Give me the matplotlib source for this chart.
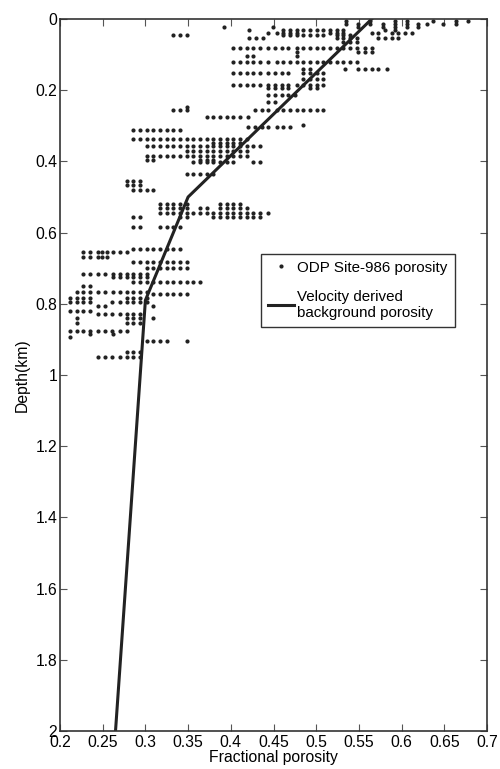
import numpy as np
import matplotlib
matplotlib.use("Agg")
import matplotlib.pyplot as plt
from matplotlib.ticker import FormatStrFormatter

plt.rcParams['font.family'] = ['Liberation Sans', 'DejaVu Sans']

# ODP Site-986 porosity samples: depth (km) -> porosity values at that depth
rows = [
    (0.006, [0.535, 0.563, 0.592, 0.606, 0.637, 0.664, 0.678]),
    (0.014, [0.535, 0.549, 0.563, 0.578, 0.592, 0.606, 0.619, 0.630, 0.648, 0.664]),
    (0.022, [0.392, 0.449, 0.549, 0.578, 0.592, 0.606, 0.619]),
    (0.030, [0.421, 0.461, 0.469, 0.478, 0.485, 0.493, 0.501, 0.508, 0.516, 0.524, 0.531, 0.581, 0.592]),
    (0.038, [0.444, 0.454, 0.461, 0.469, 0.478, 0.516, 0.524, 0.531, 0.565, 0.572, 0.589, 0.596, 0.604, 0.612]),
    (0.044, [0.332, 0.340, 0.349, 0.461, 0.469, 0.478, 0.485, 0.493, 0.501, 0.508, 0.524, 0.531, 0.540]),
    (0.052, [0.421, 0.430, 0.438, 0.524, 0.531, 0.540, 0.548, 0.572, 0.581, 0.589, 0.596]),
    (0.065, [0.531, 0.540, 0.548]),
    (0.082, [0.403, 0.411, 0.419, 0.426, 0.434, 0.444, 0.452, 0.460, 0.467, 0.478, 0.485, 0.493,
             0.501, 0.508, 0.516, 0.524, 0.531, 0.540, 0.548, 0.557, 0.565]),
    (0.092, [0.478, 0.549, 0.557, 0.565]),
    (0.105, [0.419, 0.426, 0.478]),
    (0.120, [0.403, 0.411, 0.419, 0.426, 0.434, 0.444, 0.454, 0.461, 0.469, 0.478, 0.485, 0.493,
             0.501, 0.508, 0.516, 0.524, 0.531, 0.540, 0.548]),
    (0.140, [0.485, 0.493, 0.534, 0.549, 0.557, 0.565, 0.572, 0.583]),
    (0.152, [0.403, 0.411, 0.419, 0.426, 0.434, 0.444, 0.452, 0.460, 0.467, 0.485, 0.493, 0.501, 0.508]),
    (0.168, [0.485, 0.493, 0.501, 0.508]),
    (0.185, [0.403, 0.411, 0.419, 0.426, 0.434, 0.444, 0.452, 0.460, 0.467, 0.478, 0.485, 0.493,
             0.501, 0.508]),
    (0.195, [0.444, 0.452, 0.460, 0.467, 0.493, 0.501]),
    (0.213, [0.444, 0.452, 0.460, 0.467, 0.475]),
    (0.233, [0.444, 0.452]),
    (0.248, [0.349]),
    (0.256, [0.332, 0.340, 0.349, 0.428, 0.437, 0.444, 0.454, 0.461, 0.469, 0.478, 0.485, 0.493,
             0.501, 0.508]),
    (0.275, [0.372, 0.379, 0.387, 0.396, 0.403, 0.411, 0.420]),
    (0.298, [0.485]),
    (0.303, [0.420, 0.428, 0.437, 0.444, 0.454, 0.461, 0.469]),
    (0.312, [0.285, 0.294, 0.302, 0.309, 0.317, 0.325, 0.332, 0.341]),
    (0.337, [0.285, 0.294, 0.302, 0.309, 0.317, 0.325, 0.332, 0.341, 0.349, 0.356, 0.364, 0.372,
             0.379, 0.387, 0.396, 0.403, 0.411, 0.419]),
    (0.347, [0.379, 0.387, 0.396, 0.403, 0.411]),
    (0.357, [0.302, 0.309, 0.317, 0.325, 0.332, 0.341, 0.349, 0.356, 0.364, 0.372, 0.379, 0.387,
             0.396, 0.403, 0.411, 0.419, 0.426, 0.434]),
    (0.372, [0.349, 0.356, 0.364, 0.372, 0.379, 0.387, 0.396, 0.403, 0.411, 0.419]),
    (0.385, [0.302, 0.309, 0.317, 0.325, 0.332, 0.341, 0.349, 0.356, 0.364, 0.372, 0.379, 0.387,
             0.396, 0.403, 0.411, 0.419]),
    (0.395, [0.302, 0.309, 0.364, 0.372, 0.379]),
    (0.402, [0.356, 0.364, 0.372, 0.379, 0.387, 0.396, 0.403, 0.426, 0.434]),
    (0.435, [0.349, 0.356, 0.364, 0.372, 0.379]),
    (0.455, [0.278, 0.285, 0.294]),
    (0.465, [0.278, 0.285, 0.294]),
    (0.480, [0.285, 0.294, 0.302, 0.309]),
    (0.520, [0.317, 0.325, 0.332, 0.341, 0.349, 0.387, 0.396, 0.403, 0.411]),
    (0.530, [0.317, 0.325, 0.332, 0.341, 0.349, 0.364, 0.372, 0.387, 0.396, 0.403, 0.411, 0.419]),
    (0.545, [0.317, 0.325, 0.332, 0.341, 0.349, 0.356, 0.364, 0.372, 0.379, 0.387, 0.396, 0.403,
             0.411, 0.419, 0.426, 0.434, 0.444]),
    (0.556, [0.285, 0.294, 0.341, 0.349, 0.379, 0.387, 0.396, 0.403, 0.411, 0.419, 0.426, 0.434]),
    (0.585, [0.285, 0.294, 0.317, 0.325, 0.332, 0.341]),
    (0.645, [0.285, 0.294, 0.302, 0.309, 0.317, 0.325, 0.332, 0.341]),
    (0.655, [0.227, 0.235, 0.244, 0.249, 0.255, 0.262, 0.270, 0.278]),
    (0.668, [0.227, 0.235, 0.244, 0.249, 0.255]),
    (0.683, [0.285, 0.294, 0.302, 0.309, 0.317, 0.325, 0.332, 0.341, 0.349]),
    (0.700, [0.302, 0.309, 0.317, 0.325, 0.332, 0.341, 0.349]),
    (0.716, [0.227, 0.235, 0.244, 0.253, 0.262, 0.270, 0.278, 0.285, 0.294, 0.302]),
    (0.725, [0.262, 0.270, 0.278, 0.285, 0.294, 0.302]),
    (0.739, [0.285, 0.294, 0.302, 0.309, 0.317, 0.325, 0.332, 0.341, 0.349, 0.356, 0.364]),
    (0.750, [0.227, 0.235]),
    (0.767, [0.220, 0.227, 0.235, 0.244, 0.253, 0.262, 0.270, 0.278, 0.285, 0.294, 0.302]),
    (0.772, [0.309, 0.317, 0.325, 0.332, 0.341, 0.349]),
    (0.785, [0.212, 0.220, 0.227, 0.235, 0.278, 0.285, 0.294, 0.302]),
    (0.795, [0.212, 0.220, 0.227, 0.235, 0.261, 0.270, 0.278, 0.285, 0.294, 0.302]),
    (0.805, [0.244, 0.253, 0.309]),
    (0.820, [0.212, 0.220, 0.227, 0.235]),
    (0.830, [0.244, 0.253, 0.261, 0.270, 0.278, 0.285, 0.294]),
    (0.840, [0.220, 0.278, 0.285, 0.294, 0.309]),
    (0.855, [0.220, 0.278, 0.285, 0.294]),
    (0.876, [0.212, 0.220, 0.227, 0.235, 0.244, 0.253, 0.261, 0.270, 0.278]),
    (0.885, [0.235, 0.262]),
    (0.893, [0.212]),
    (0.904, [0.302, 0.309, 0.317, 0.325, 0.349]),
    (0.935, [0.278, 0.285, 0.294]),
    (0.950, [0.244, 0.253, 0.261, 0.270, 0.278, 0.285, 0.294]),
]

# velocity derived background porosity
bg_depth = [0.0, 0.5, 0.79, 2.0]
bg_porosity = [0.565, 0.35, 0.30, 0.265]

odp_depth = np.concatenate([[d] * len(xs) for d, xs in rows])
odp_porosity = np.concatenate([xs for d, xs in rows])

fig = plt.figure(figsize=(5, 7.69), dpi=100)
ax = fig.add_axes([0.12, 0.0494, 0.854, 0.9259])

ax.plot(odp_porosity, odp_depth, 'o', color='#222222', ms=3.0, mew=0,
        label='ODP Site-986 porosity')
ax.plot(bg_porosity, bg_depth, '-', color='#222222', lw=2.2,
        label='Velocity derived\nbackground porosity')

ax.set_xlim(0.2, 0.7)
ax.set_ylim(2, 0)
ax.set_xticks(np.arange(0.2, 0.701, 0.05))
ax.set_yticks(np.arange(0, 2.01, 0.2))
ax.xaxis.set_major_formatter(FormatStrFormatter('%g'))
ax.yaxis.set_major_formatter(FormatStrFormatter('%g'))
ax.tick_params(direction='in', top=True, right=True, length=5, labelsize=11.3,
               color='#555555')
ax.tick_params(axis='x', pad=3)
ax.tick_params(axis='y', pad=2)
for s in ax.spines.values():
    s.set_color('#333333')
    s.set_linewidth(1.2)

ax.set_xlabel('Fractional porosity', fontsize=11.3, labelpad=0)
ax.set_ylabel('Depth(km)', fontsize=11.3, labelpad=4)

leg = ax.legend(loc='upper left', bbox_to_anchor=(0.471, 0.670), fontsize=10.9,
                fancybox=False, framealpha=1, edgecolor='#333333',
                handlelength=1.7, handletextpad=0.25, borderpad=0.45,
                labelspacing=1.0, markerscale=1.0, borderaxespad=0)
leg.get_frame().set_linewidth(1.0)

fig.savefig('out.png', dpi=100)
